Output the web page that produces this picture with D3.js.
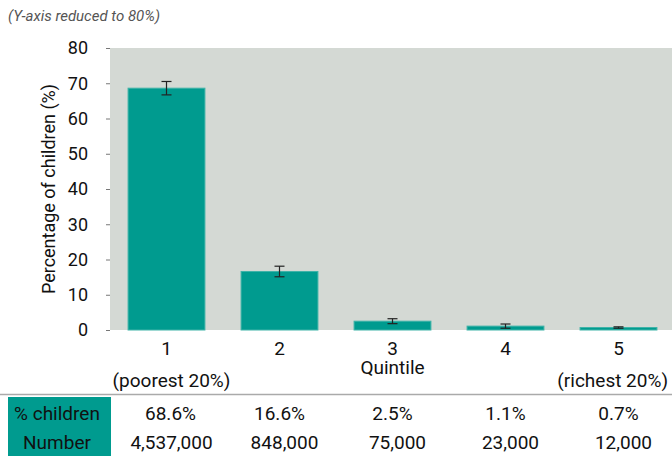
<!DOCTYPE html>
<html><head><meta charset="utf-8">
<script src="https://cdn.jsdelivr.net/npm/d3@7"></script>
<style>body{margin:0;background:#fff}svg{display:block}text{font-family:Roboto,"Liberation Sans",Arial,sans-serif}</style>
</head><body><svg id="c" width="672" height="456"></svg>
<script>
const quintiles = ["1","2","3","4","5"];
const subLabels = ["(poorest 20%)","","","","(richest 20%)"];
const pctValues = [68.6,16.6,2.5,1.1,0.7];
const errValues = [1.9,1.5,0.7,0.6,0.2];
const pctLabels = ["68.6%","16.6%","2.5%","1.1%","0.7%"];
const numberLabels = ["4,537,000","848,000","75,000","23,000","12,000"];
const yTicks = [0,10,20,30,40,50,60,70,80];

const svg = d3.select("#c");
const x = d3.scaleBand().domain(quintiles).range([110,675]).paddingInner(0.32).paddingOuter(0.16);
const y = d3.scaleLinear().domain([0,80]).range([330,48]);
const teal = "#009b8f";
const arial = "Liberation Sans, Arial, sans-serif";
const cx = q => x(q)+x.bandwidth()/2;

svg.append("text").attr("x",8).attr("y",21).attr("font-size",15).attr("font-style","italic")
  .attr("font-family",arial).attr("fill","#555").text("(Y-axis reduced to 80%)");

svg.append("rect").attr("x",110).attr("y",y(80)).attr("width",562).attr("height",y(0)-y(80)).attr("fill","#d4d9d4");

const yAxis = svg.append("g").attr("transform","translate(110,0)")
  .call(d3.axisLeft(y).tickValues(yTicks).tickSize(4).tickPadding(18));
yAxis.select(".domain").remove();
yAxis.selectAll(".tick line").attr("stroke","#777");
yAxis.selectAll(".tick text").attr("font-size",18).attr("fill","#111").attr("font-family",arial);

svg.append("text").attr("transform",`translate(55,${(y(0)+y(80))/2}) rotate(-90)`)
  .attr("text-anchor","middle").attr("font-size",18).attr("font-family",arial).attr("fill","#111").text("Percentage of children (%)");

svg.selectAll("rect.bar").data(quintiles).join("rect").attr("class","bar")
  .attr("x",d=>x(d)).attr("width",x.bandwidth())
  .attr("y",(d,i)=>y(pctValues[i])).attr("height",(d,i)=>y(0)-y(pctValues[i]))
  .attr("fill",teal).attr("stroke","#3fb3a8").attr("stroke-width",1);

const eb = svg.append("g").attr("stroke","#222").attr("stroke-width",1.2);
quintiles.forEach((q,i)=>{
  const c = cx(q);
  const t = y(pctValues[i]+errValues[i]), b = y(pctValues[i]-errValues[i]);
  eb.append("line").attr("x1",c).attr("x2",c).attr("y1",t).attr("y2",b);
  eb.append("line").attr("x1",c-5).attr("x2",c+5).attr("y1",t).attr("y2",t);
  eb.append("line").attr("x1",c-5).attr("x2",c+5).attr("y1",b).attr("y2",b);
});

const xAxis = svg.append("g").attr("transform","translate(0,330)")
  .call(d3.axisBottom(x).tickSize(0).tickPadding(12));
xAxis.select(".domain").remove();
xAxis.selectAll(".tick text").attr("font-size",19).attr("fill","#111").attr("font-family","Roboto, sans-serif");

svg.append("text").attr("x",cx("1")+5).attr("y",387).attr("text-anchor","middle").attr("font-size",19).attr("fill","#111").text(subLabels[0]);
svg.append("text").attr("x",668).attr("y",387).attr("text-anchor","end").attr("font-size",19).attr("fill","#111").text(subLabels[4]);
svg.append("text").attr("x",cx("3")).attr("y",374).attr("text-anchor","middle").attr("font-size",19).attr("fill","#111").text("Quintile");

svg.append("line").attr("x1",0).attr("x2",672).attr("y1",394.5).attr("y2",394.5).attr("stroke","#aaa").attr("stroke-width",1.5);
svg.append("rect").attr("x",8).attr("y",397).attr("width",103).attr("height",59).attr("fill",teal);
svg.append("text").attr("x",57).attr("y",420).attr("text-anchor","middle").attr("font-size",19).attr("fill","#111").text("% children");
svg.append("text").attr("x",57).attr("y",449).attr("text-anchor","middle").attr("font-size",19).attr("fill","#111").text("Number");

svg.selectAll("text.pct").data(quintiles).join("text").attr("class","pct")
  .attr("x",(d,i)=>cx(d)+(i===0?4:0)).attr("y",420).attr("text-anchor","middle").attr("font-size",19).attr("fill","#111")
  .text((d,i)=>pctLabels[i]);
svg.selectAll("text.num").data(quintiles).join("text").attr("class","num")
  .attr("x",d=>cx(d)+5).attr("y",449).attr("text-anchor","middle").attr("font-size",19).attr("fill","#111")
  .text((d,i)=>numberLabels[i]);
</script></body></html>
